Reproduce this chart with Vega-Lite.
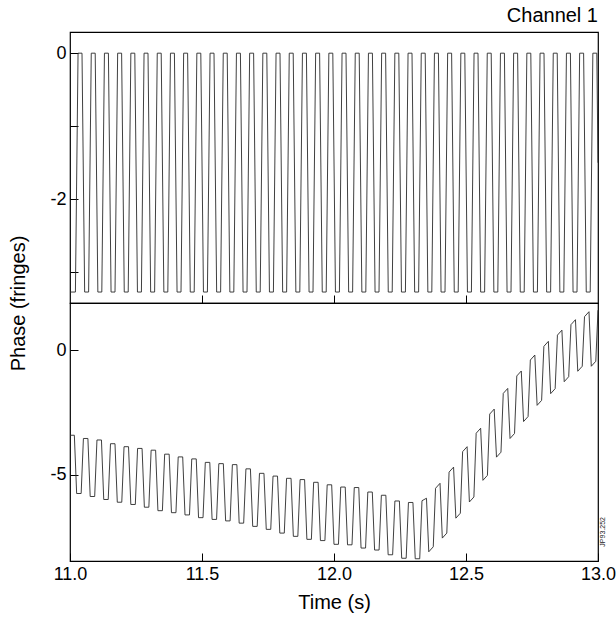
{
"$schema": "https://vega.github.io/schema/vega-lite/v6.json",
"padding": {"left": 7, "top": 5, "right": 2, "bottom": 5},
"background": "white",
"bounds": "flush",
"config": {
 "font": "Liberation Sans",
 "view": {"stroke": "black", "strokeWidth": 1.2},
 "concat": {"spacing": 0},
 "axis": {"grid": false, "domain": false, "tickColor": "black", "tickSize": -8, "labelFontSize": 18, "labelColor": "black", "labelFont": "Liberation Sans", "titleFont": "Liberation Sans", "titleFontSize": 20, "titleFontWeight": "normal", "titleColor": "black", "labelPadding": 14, "labelFlush": false},
 "title": {"font": "Liberation Sans", "fontSize": 20, "fontWeight": "normal", "color": "black"}
},
"datasets": {
"top": [
{"t":11,"v":-3.27},{"t":11.0205,"v":-3.27},
{"t":11.0305,"v":0},{"t":11.0455,"v":0},{"t":11.0555,"v":-3.27},{"t":11.0705,"v":-3.27},
{"t":11.0805,"v":0},{"t":11.0955,"v":0},{"t":11.1055,"v":-3.27},{"t":11.1205,"v":-3.27},
{"t":11.1305,"v":0},{"t":11.1455,"v":0},{"t":11.1555,"v":-3.27},{"t":11.1705,"v":-3.27},
{"t":11.1805,"v":0},{"t":11.1955,"v":0},{"t":11.2055,"v":-3.27},{"t":11.2205,"v":-3.27},
{"t":11.2305,"v":0},{"t":11.2455,"v":0},{"t":11.2555,"v":-3.27},{"t":11.2705,"v":-3.27},
{"t":11.2805,"v":0},{"t":11.2955,"v":0},{"t":11.3055,"v":-3.27},{"t":11.3205,"v":-3.27},
{"t":11.3305,"v":0},{"t":11.3455,"v":0},{"t":11.3555,"v":-3.27},{"t":11.3705,"v":-3.27},
{"t":11.3805,"v":0},{"t":11.3955,"v":0},{"t":11.4055,"v":-3.27},{"t":11.4205,"v":-3.27},
{"t":11.4305,"v":0},{"t":11.4455,"v":0},{"t":11.4555,"v":-3.27},{"t":11.4705,"v":-3.27},
{"t":11.4805,"v":0},{"t":11.4955,"v":0},{"t":11.5055,"v":-3.27},{"t":11.5205,"v":-3.27},
{"t":11.5305,"v":0},{"t":11.5455,"v":0},{"t":11.5555,"v":-3.27},{"t":11.5705,"v":-3.27},
{"t":11.5805,"v":0},{"t":11.5955,"v":0},{"t":11.6055,"v":-3.27},{"t":11.6205,"v":-3.27},
{"t":11.6305,"v":0},{"t":11.6455,"v":0},{"t":11.6555,"v":-3.27},{"t":11.6705,"v":-3.27},
{"t":11.6805,"v":0},{"t":11.6955,"v":0},{"t":11.7055,"v":-3.27},{"t":11.7205,"v":-3.27},
{"t":11.7305,"v":0},{"t":11.7455,"v":0},{"t":11.7555,"v":-3.27},{"t":11.7705,"v":-3.27},
{"t":11.7805,"v":0},{"t":11.7955,"v":0},{"t":11.8055,"v":-3.27},{"t":11.8205,"v":-3.27},
{"t":11.8305,"v":0},{"t":11.8455,"v":0},{"t":11.8555,"v":-3.27},{"t":11.8705,"v":-3.27},
{"t":11.8805,"v":0},{"t":11.8955,"v":0},{"t":11.9055,"v":-3.27},{"t":11.9205,"v":-3.27},
{"t":11.9305,"v":0},{"t":11.9455,"v":0},{"t":11.9555,"v":-3.27},{"t":11.9705,"v":-3.27},
{"t":11.9805,"v":0},{"t":11.9955,"v":0},{"t":12.0055,"v":-3.27},{"t":12.0205,"v":-3.27},
{"t":12.0305,"v":0},{"t":12.0455,"v":0},{"t":12.0555,"v":-3.27},{"t":12.0705,"v":-3.27},
{"t":12.0805,"v":0},{"t":12.0955,"v":0},{"t":12.1055,"v":-3.27},{"t":12.1205,"v":-3.27},
{"t":12.1305,"v":0},{"t":12.1455,"v":0},{"t":12.1555,"v":-3.27},{"t":12.1705,"v":-3.27},
{"t":12.1805,"v":0},{"t":12.1955,"v":0},{"t":12.2055,"v":-3.27},{"t":12.2205,"v":-3.27},
{"t":12.2305,"v":0},{"t":12.2455,"v":0},{"t":12.2555,"v":-3.27},{"t":12.2705,"v":-3.27},
{"t":12.2805,"v":0},{"t":12.2955,"v":0},{"t":12.3055,"v":-3.27},{"t":12.3205,"v":-3.27},
{"t":12.3305,"v":0},{"t":12.3455,"v":0},{"t":12.3555,"v":-3.27},{"t":12.3705,"v":-3.27},
{"t":12.3805,"v":0},{"t":12.3955,"v":0},{"t":12.4055,"v":-3.27},{"t":12.4205,"v":-3.27},
{"t":12.4305,"v":0},{"t":12.4455,"v":0},{"t":12.4555,"v":-3.27},{"t":12.4705,"v":-3.27},
{"t":12.4805,"v":0},{"t":12.4955,"v":0},{"t":12.5055,"v":-3.27},{"t":12.5205,"v":-3.27},
{"t":12.5305,"v":0},{"t":12.5455,"v":0},{"t":12.5555,"v":-3.27},{"t":12.5705,"v":-3.27},
{"t":12.5805,"v":0},{"t":12.5955,"v":0},{"t":12.6055,"v":-3.27},{"t":12.6205,"v":-3.27},
{"t":12.6305,"v":0},{"t":12.6455,"v":0},{"t":12.6555,"v":-3.27},{"t":12.6705,"v":-3.27},
{"t":12.6805,"v":0},{"t":12.6955,"v":0},{"t":12.7055,"v":-3.27},{"t":12.7205,"v":-3.27},
{"t":12.7305,"v":0},{"t":12.7455,"v":0},{"t":12.7555,"v":-3.27},{"t":12.7705,"v":-3.27},
{"t":12.7805,"v":0},{"t":12.7955,"v":0},{"t":12.8055,"v":-3.27},{"t":12.8205,"v":-3.27},
{"t":12.8305,"v":0},{"t":12.8455,"v":0},{"t":12.8555,"v":-3.27},{"t":12.8705,"v":-3.27},
{"t":12.8805,"v":0},{"t":12.8955,"v":0},{"t":12.9055,"v":-3.27},{"t":12.9205,"v":-3.27},
{"t":12.9305,"v":0},{"t":12.9455,"v":0},{"t":12.9555,"v":-3.27},{"t":12.9705,"v":-3.27},
{"t":12.9805,"v":0},{"t":12.9955,"v":0},{"t":13,"v":-1.5}
],
"bot": [
{"t":11,"v":-3.42},{"t":11.0165,"v":-3.42},{"t":11.0252,"v":-5.76},{"t":11.0422,"v":-5.76},
{"t":11.0508,"v":-3.55},{"t":11.0678,"v":-3.55},{"t":11.0765,"v":-5.88},{"t":11.0935,"v":-5.88},
{"t":11.1021,"v":-3.61},{"t":11.1191,"v":-3.61},{"t":11.1278,"v":-6.0},{"t":11.1448,"v":-6.0},
{"t":11.1534,"v":-3.76},{"t":11.1704,"v":-3.76},{"t":11.1791,"v":-6.11},{"t":11.1961,"v":-6.11},
{"t":11.2047,"v":-3.88},{"t":11.2217,"v":-3.88},{"t":11.2304,"v":-6.2},{"t":11.2474,"v":-6.2},
{"t":11.256,"v":-3.95},{"t":11.273,"v":-3.95},{"t":11.2817,"v":-6.31},{"t":11.2987,"v":-6.31},
{"t":11.3073,"v":-4.02},{"t":11.3243,"v":-4.02},{"t":11.333,"v":-6.45},{"t":11.35,"v":-6.45},
{"t":11.3586,"v":-4.18},{"t":11.3756,"v":-4.18},{"t":11.3843,"v":-6.53},{"t":11.4013,"v":-6.53},
{"t":11.4099,"v":-4.29},{"t":11.4269,"v":-4.29},{"t":11.4356,"v":-6.62},{"t":11.4526,"v":-6.62},
{"t":11.4612,"v":-4.37},{"t":11.4782,"v":-4.37},{"t":11.4869,"v":-6.73},{"t":11.5039,"v":-6.73},
{"t":11.5125,"v":-4.51},{"t":11.5295,"v":-4.51},{"t":11.5382,"v":-6.8},{"t":11.5552,"v":-6.8},
{"t":11.5638,"v":-4.56},{"t":11.5808,"v":-4.56},{"t":11.5895,"v":-6.86},{"t":11.6065,"v":-6.86},
{"t":11.6151,"v":-4.6},{"t":11.6321,"v":-4.6},{"t":11.6408,"v":-6.95},{"t":11.6578,"v":-6.95},
{"t":11.6664,"v":-4.77},{"t":11.6834,"v":-4.77},{"t":11.6921,"v":-7.08},{"t":11.7091,"v":-7.08},
{"t":11.7177,"v":-4.95},{"t":11.7347,"v":-4.95},{"t":11.7434,"v":-7.2},{"t":11.7604,"v":-7.2},
{"t":11.769,"v":-5.06},{"t":11.786,"v":-5.06},{"t":11.7947,"v":-7.35},{"t":11.8117,"v":-7.35},
{"t":11.8203,"v":-5.15},{"t":11.8373,"v":-5.15},{"t":11.846,"v":-7.48},{"t":11.863,"v":-7.48},
{"t":11.8716,"v":-5.2},{"t":11.8886,"v":-5.2},{"t":11.8973,"v":-7.6},{"t":11.9143,"v":-7.6},
{"t":11.9229,"v":-5.31},{"t":11.9399,"v":-5.31},{"t":11.9486,"v":-7.65},{"t":11.9656,"v":-7.65},
{"t":11.9742,"v":-5.41},{"t":11.9912,"v":-5.41},{"t":11.9999,"v":-7.8},{"t":12.0169,"v":-7.8},
{"t":12.0255,"v":-5.5},{"t":12.0425,"v":-5.5},{"t":12.0512,"v":-7.82},{"t":12.0682,"v":-7.82},
{"t":12.0768,"v":-5.52},{"t":12.0938,"v":-5.52},{"t":12.1025,"v":-7.95},{"t":12.1195,"v":-7.95},
{"t":12.1281,"v":-5.7},{"t":12.1451,"v":-5.7},{"t":12.1538,"v":-8.03},{"t":12.1708,"v":-8.03},
{"t":12.1794,"v":-5.83},{"t":12.1964,"v":-5.83},{"t":12.2051,"v":-8.22},{"t":12.2221,"v":-8.22},
{"t":12.2307,"v":-6.06},{"t":12.2477,"v":-6.06},{"t":12.2564,"v":-8.36},{"t":12.2734,"v":-8.36},
{"t":12.282,"v":-6.12},{"t":12.299,"v":-6.12},{"t":12.3077,"v":-8.38},{"t":12.3247,"v":-8.38},
{"t":12.3333,"v":-6.05},{"t":12.3503,"v":-5.95},{"t":12.359,"v":-8.1},{"t":12.376,"v":-7.9},
{"t":12.3846,"v":-5.55},{"t":12.4016,"v":-5.35},{"t":12.4103,"v":-7.55},{"t":12.4273,"v":-7.35},
{"t":12.4359,"v":-4.9},{"t":12.4529,"v":-4.7},{"t":12.4616,"v":-6.75},{"t":12.4786,"v":-6.55},
{"t":12.4872,"v":-4.08},{"t":12.5042,"v":-3.88},{"t":12.5129,"v":-6.1},{"t":12.5299,"v":-5.9},
{"t":12.5385,"v":-3.34},{"t":12.5555,"v":-3.14},{"t":12.5642,"v":-5.23},{"t":12.5812,"v":-5.03},
{"t":12.5898,"v":-2.57},{"t":12.6068,"v":-2.37},{"t":12.6155,"v":-4.3},{"t":12.6325,"v":-4.1},
{"t":12.6411,"v":-1.74},{"t":12.6581,"v":-1.54},{"t":12.6668,"v":-3.55},{"t":12.6838,"v":-3.35},
{"t":12.6924,"v":-1.04},{"t":12.7094,"v":-0.84},{"t":12.7181,"v":-2.87},{"t":12.7351,"v":-2.67},
{"t":12.7437,"v":-0.4},{"t":12.7607,"v":-0.2},{"t":12.7694,"v":-2.22},{"t":12.7864,"v":-2.02},
{"t":12.795,"v":0.15},{"t":12.812,"v":0.35},{"t":12.8207,"v":-1.75},{"t":12.8377,"v":-1.55},
{"t":12.8463,"v":0.6},{"t":12.8633,"v":0.8},{"t":12.872,"v":-1.27},{"t":12.889,"v":-1.07},
{"t":12.8976,"v":1.02},{"t":12.9146,"v":1.22},{"t":12.9233,"v":-0.85},{"t":12.9403,"v":-0.65},
{"t":12.9489,"v":1.34},{"t":12.9659,"v":1.54},{"t":12.9746,"v":-0.65},{"t":12.9916,"v":-0.45},
{"t":13,"v":1.6}
],
"note": [{"t":13,"v":-7.3,"s":"JP93.252"}]
},
"vconcat": [
 {
  "width": 528, "height": 271,
  "title": {"text": "Channel 1", "anchor": "end", "offset": 6},
  "data": {"name": "top"},
  "mark": {"type": "line", "color": "#2a2a2a", "strokeWidth": 0.9, "clip": true},
  "encoding": {
   "x": {"field": "t", "type": "quantitative", "scale": {"domain": [11, 13], "nice": false, "zero": false},
         "axis": {"values": [11.5, 12, 12.5], "labels": false, "title": null}},
   "y": {"field": "v", "type": "quantitative", "scale": {"domain": [-3.42, 0.29], "nice": false, "zero": false},
         "axis": {"values": [-3, -2, -1, 0], "labelExpr": "datum.value == -1 || datum.value == -3 ? '' : replace(datum.label, '\u2212', '-')", "title": null, "labelPadding": 12}}
  }
 },
 {
  "width": 528, "height": 258,
  "layer": [
   {
    "data": {"name": "bot"},
    "mark": {"type": "line", "color": "#2a2a2a", "strokeWidth": 0.9, "clip": true},
    "encoding": {
     "x": {"field": "t", "type": "quantitative", "scale": {"domain": [11, 13], "nice": false, "zero": false},
           "axis": {"values": [11, 11.5, 12, 12.5, 13], "format": ".1f", "title": "Time (s)", "titlePadding": 9, "labelPadding": 12}},
     "y": {"field": "v", "type": "quantitative", "scale": {"domain": [-8.47, 1.89], "nice": false, "zero": false},
           "axis": {"values": [0, -5], "labelExpr": "replace(datum.label, '\u2212', '-')", "title": "Phase (fringes)", "titleY": 0, "titleX": -42, "labelPadding": 12}}
    }
   },
   {
    "data": {"name": "note"},
    "mark": {"type": "text", "angle": 270, "fontSize": 7, "baseline": "top", "align": "center", "dy": 1, "color": "#222"},
    "encoding": {
     "x": {"field": "t", "type": "quantitative"},
     "y": {"field": "v", "type": "quantitative"},
     "text": {"field": "s"}
    }
   }
  ]
 }
]
}
